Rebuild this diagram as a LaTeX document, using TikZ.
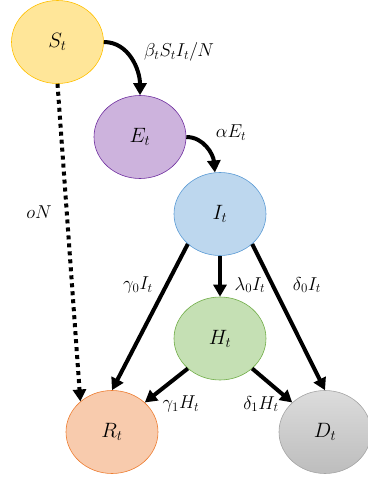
\documentclass[tikz,border=0pt]{standalone}
\usetikzlibrary{shapes.geometric,arrows.meta}
\definecolor{sFill}{HTML}{FFE699}\definecolor{sLine}{HTML}{FFC000}
\definecolor{eFill}{HTML}{CDB3DD}\definecolor{eLine}{HTML}{7030A0}
\definecolor{iFill}{HTML}{BDD7EE}\definecolor{iLine}{HTML}{5B9BD5}
\definecolor{hFill}{HTML}{C5E0B4}\definecolor{hLine}{HTML}{70AD47}
\definecolor{rFill}{HTML}{F8CBAD}\definecolor{rLine}{HTML}{ED7D31}
\definecolor{dTop}{HTML}{DCDCDC}\definecolor{dBot}{HTML}{BDBDBD}\definecolor{dLine}{HTML}{A5A5A5}
\tikzset{
  comp/.style={ellipse, minimum width=92pt, minimum height=83pt, inner sep=0pt, line width=0.6pt,
    font=\huge},
  flow/.style={line width=4pt, -{Triangle[length=12pt,width=13pt]}},
  dotflow/.style={line width=4pt, dash pattern=on 4pt off 4pt, -{Triangle[length=12pt,width=13pt]}},
  rate/.style={font=\LARGE, scale=1.08, inner sep=0pt}
}
\begin{document}
\begin{tikzpicture}[x=1pt,y=-1pt]
  \useasboundingbox (0,0) rectangle (367,481);
  % compartments
  \node[comp, draw=sLine, fill=sFill] (S) at (57.5,42) {$S_t$};
  \node[comp, draw=eLine, fill=eFill] (E) at (140,137) {$E_t$};
  \node[comp, draw=iLine, fill=iFill] (I) at (220,214) {$I_t$};
  \node[comp, draw=hLine, fill=hFill] (H) at (220,338.5) {$H_t$};
  \node[comp, draw=rLine, fill=rFill] (R) at (112,432) {$R_t$};
  \node[comp, draw=dLine, top color=dTop, bottom color=dBot] (D) at (325,432) {$D_t$};
  % transitions
  \draw[flow] (S.east) to[out=0,in=90] (E.north);
  \draw[flow] (E.east) to[out=0,in=95] (I.97);
  \draw[flow] (I.south) -- (H.north);
  \draw[flow] (I.-137) -- (R.north);
  \draw[flow] (I.-43) -- (D.north);
  \draw[flow] (H.-137) -- (R.42);
  \draw[flow] (H.-43) -- (D.138);
  \draw[dotflow] (S.south) -- (R.136);
  % rates
  \node[rate] (lSE) at (179,52) {$\beta_t S_t I_t/N$};
  \node[rate] (lEI) at (231,133) {$\alpha E_t$};
  \node[rate] (lIR) at (138,285) {$\gamma_0 I_t$};
  \node[rate] (lIH) at (250,285) {$\lambda_0 I_t$};
  \node[rate] (lID) at (307,285) {$\delta_0 I_t$};
  \node[rate] (lHR) at (181,404) {$\gamma_1 H_t$};
  \node[rate] (lHD) at (261,404) {$\delta_1 H_t$};
  \node[rate] (lSR) at (39,212) {$oN$};
\end{tikzpicture}
\end{document}
